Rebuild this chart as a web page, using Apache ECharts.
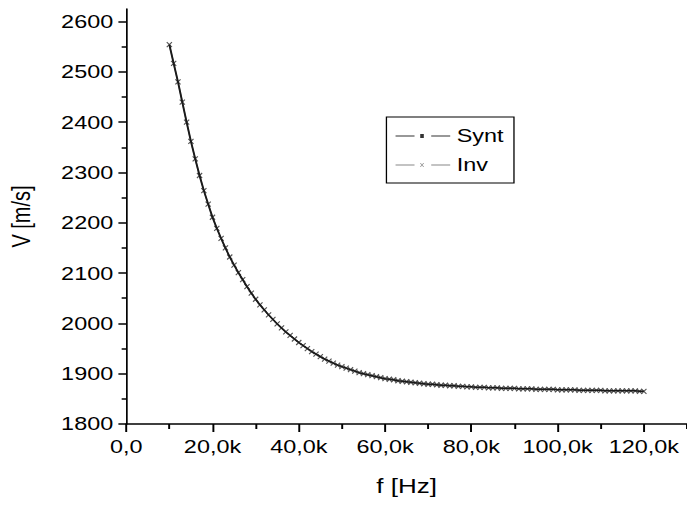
<!DOCTYPE html>
<html>
<head>
<meta charset="utf-8">
<title>V(f)</title>
<script src="https://cdn.jsdelivr.net/npm/echarts@6/dist/echarts.min.js"></script>
<style>
  html, body { margin: 0; padding: 0; background: #fff; overflow: hidden; }
  /* the plot is laid out narrow and widened horizontally, giving the broad lettering */
  #chart { width: 528px; height: 509px; transform: scaleX(1.30114); transform-origin: 0 0; }
</style>
</head>
<body>
<div id="chart"></div>
<script>
// frequency samples, kHz
const freqKHz = [
  10, 11, 12, 13, 14, 15, 16, 17, 18, 19,
  20, 21, 22, 23, 24, 25, 26, 27, 28, 29,
  30, 31, 32, 33, 34, 35, 36, 37, 38, 39,
  40, 41, 42, 43, 44, 45, 46, 47, 48, 49,
  50, 51, 52, 53, 54, 55, 56, 57, 58, 59,
  60, 61, 62, 63, 64, 65, 66, 67, 68, 69,
  70, 71, 72, 73, 74, 75, 76, 77, 78, 79,
  80, 81, 82, 83, 84, 85, 86, 87, 88, 89,
  90, 91, 92, 93, 94, 95, 96, 97, 98, 99,
  100, 101, 102, 103, 104, 105, 106, 107, 108, 109,
  110, 111, 112, 113, 114, 115, 116, 117, 118, 119,
  120
];

// synthetic dispersion curve, m/s
const syntVelocity = [
  2554, 2517, 2480, 2440, 2400, 2362, 2327, 2294, 2264, 2237,
  2211, 2189, 2169, 2150, 2132, 2116, 2101, 2087, 2073, 2060,
  2048, 2037, 2027, 2017, 2008, 1999, 1991, 1983, 1976, 1969,
  1962, 1956, 1950, 1944, 1939, 1934, 1929, 1925, 1921, 1917,
  1914, 1911, 1908, 1905, 1902, 1900, 1898, 1896, 1894, 1892,
  1890, 1889, 1888, 1886, 1885, 1884, 1883, 1882, 1881, 1880,
  1879, 1879, 1878, 1877, 1877, 1876, 1876, 1875, 1875, 1874,
  1874, 1873, 1873, 1873, 1872, 1872, 1872, 1871, 1871, 1871,
  1871, 1870, 1870, 1870, 1870, 1869, 1869, 1869, 1869, 1869,
  1868, 1868, 1868, 1868, 1868, 1867, 1867, 1867, 1867, 1867,
  1867, 1866, 1866, 1866, 1866, 1866, 1866, 1866, 1866, 1865,
  1865
];

// inverted curve: falls on the synthetic one at every sample
const invVelocity = syntVelocity.slice();

// tick positions
const xMajorTicks = [0, 20000, 40000, 60000, 80000, 100000, 120000];
const xMinorTicks = [10000, 30000, 50000, 70000, 90000, 110000, 130000];
const yMajorTicks = [1800, 1900, 2000, 2100, 2200, 2300, 2400, 2500, 2600];
const yMinorTicks = [1850, 1950, 2050, 2150, 2250, 2350, 2450, 2550];

const seriesNames = ['Synt', 'Inv'];

const FONT = '"Liberation Sans", Arial, sans-serif';

function pairs(xs, ys) {
  return xs.map(function (f, i) { return [f * 1000, ys[i]]; });
}

function freqLabel(v) {
  if (v === 0) return '0,0';
  return (v / 1000).toFixed(1).replace('.', ',') + 'k';
}

function velocityLabel(v) {
  return String(v);
}

const chart = echarts.init(document.getElementById('chart'), null, { renderer: 'svg' });

const xBase = { type: 'value', min: 0, max: 130000, splitLine: { show: false } };
const yBase = { type: 'value', min: 1800, max: 2625, splitLine: { show: false } };

chart.setOption({
  animation: false,
  backgroundColor: '#fff',
  grid: { left: 97, right: 0, top: 9, bottom: 85, outerBoundsMode: 'none', containLabel: false },
  legend: {
    left: 297,
    top: 117,
    orient: 'vertical',
    padding: [9, 8, 8, 7],
    itemGap: 9,
    itemWidth: 42,
    itemHeight: 4,
    symbolKeepAspect: false,
    borderColor: '#000',
    borderWidth: 1,
    backgroundColor: '#fff',
    selectedMode: false,
    textStyle: { fontFamily: FONT, fontSize: 18, lineHeight: 20, color: '#000' },
    data: [
      {
        name: seriesNames[0],
        icon: 'path://M0,1.5h19v1h-19z M24.7,0h3.6v4h-3.6z M35.7,1.5h19v1h-19z',
        itemStyle: { color: '#333', borderWidth: 0 }
      },
      {
        name: seriesNames[1],
        icon: 'path://M0,1.5h19v1h-19z M35.7,1.5h19v1h-19z M24.7,0L25.2,0L26.5,1.45L27.8,0L28.3,0L28.3,0.55L26.95,2L28.3,3.45L28.3,4L27.8,4L26.5,2.55L25.2,4L24.7,4L24.7,3.45L26.05,2L24.7,0.55Z',
        itemStyle: { color: '#888', borderWidth: 0 }
      }
    ]
  },
  xAxis: [
    Object.assign({}, xBase, {
      position: 'bottom',
      name: 'f [Hz]',
      nameLocation: 'middle',
      nameGap: 52,
      nameTextStyle: { fontFamily: FONT, fontSize: 20, color: '#000' },
      axisLine: { show: true, lineStyle: { color: '#000', width: 1.5 } },
      axisTick: { show: true, length: 8, customValues: xMajorTicks, lineStyle: { color: '#000', width: 1.5 } },
      axisLabel: {
        customValues: xMajorTicks,
        margin: 14,
        fontFamily: FONT,
        fontSize: 18,
        color: '#000',
        formatter: freqLabel
      }
    }),
    Object.assign({}, xBase, {
      position: 'bottom',
      offset: 0,
      axisLine: { show: false },
      axisTick: { show: true, length: 5, customValues: xMinorTicks, lineStyle: { color: '#000', width: 1.5 } },
      axisLabel: { show: false }
    })
  ],
  yAxis: [
    Object.assign({}, yBase, {
      position: 'left',
      name: 'V [m/s]',
      nameLocation: 'middle',
      nameGap: 71,
      nameTextStyle: { fontFamily: FONT, fontSize: 20, color: '#000' },
      axisLine: { show: true, lineStyle: { color: '#000', width: 1.3 } },
      axisTick: { show: true, length: 6, customValues: yMajorTicks, lineStyle: { color: '#000', width: 1.5 } },
      axisLabel: {
        customValues: yMajorTicks,
        margin: 10,
        fontFamily: FONT,
        fontSize: 18,
        color: '#000',
        formatter: velocityLabel
      }
    }),
    Object.assign({}, yBase, {
      position: 'left',
      offset: 0,
      axisLine: { show: false },
      axisTick: { show: true, length: 3.5, customValues: yMinorTicks, lineStyle: { color: '#000', width: 1.5 } },
      axisLabel: { show: false }
    })
  ],
  series: [
    {
      name: seriesNames[1],
      type: 'line',
      z: 2,
      data: pairs(freqKHz, invVelocity),
      symbol: 'path://M0,0L10,10M10,0L0,10',
      symbolSize: [4, 5],
      showAllSymbol: true,
      itemStyle: { color: 'none', borderColor: '#555', borderWidth: 1 },
      lineStyle: { color: '#888', width: 1 },
      emphasis: { disabled: true },
      silent: true
    },
    {
      name: seriesNames[0],
      type: 'line',
      z: 3,
      data: pairs(freqKHz, syntVelocity),
      showSymbol: false,
      symbol: 'rect',
      lineStyle: { color: '#1a1a1a', width: 1.5 },
      emphasis: { disabled: true },
      silent: true
    }
  ]
});
</script>
</body>
</html>
